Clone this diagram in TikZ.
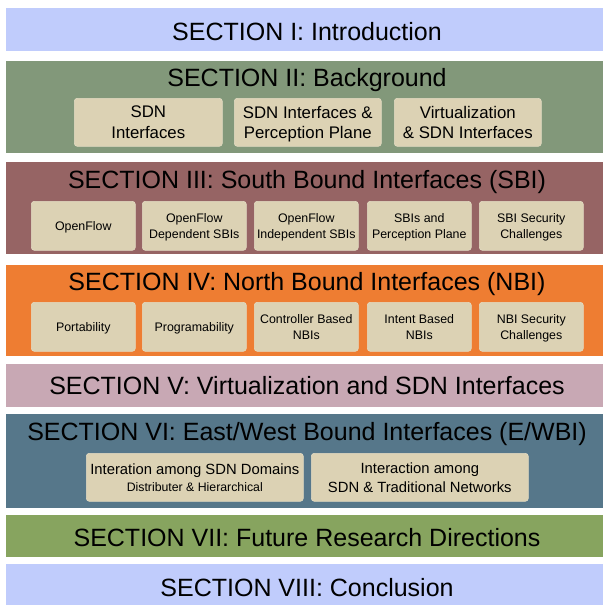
\documentclass[tikz,border=0pt]{standalone}
\usepackage{fontspec}
\setmainfont{Liberation Sans}
\definecolor{cIntro}{RGB}{192,204,252}
\definecolor{cBack}{RGB}{130,152,122}
\definecolor{cSBI}{RGB}{150,100,100}
\definecolor{cNBI}{RGB}{238,125,50}
\definecolor{cVirt}{RGB}{200,168,180}
\definecolor{cEWBI}{RGB}{86,119,138}
\definecolor{cFut}{RGB}{135,164,95}
\definecolor{cBox}{RGB}{220,210,180}
\begin{document}
\begin{tikzpicture}[x=1pt,y=-1pt,
  band/.style={fill=#1, draw=none, anchor=north west, inner sep=0pt, minimum width=597pt},
  title/.style={font=\fontsize{25}{28}\selectfont, inner sep=0pt, anchor=center},
  sub/.style={fill=cBox, draw=cBox!80!white, line width=0.6pt, rounded corners=3pt, anchor=north west, inner sep=0pt, align=center, text depth=0pt},
  subL/.style={sub, font=\fontsize{16.8}{20.5}\selectfont},
  subS/.style={sub, font=\fontsize{12.4}{16}\selectfont, minimum width=104pt, minimum height=49pt}
]
\useasboundingbox (0,0) rectangle (603,605);
% bands
\node[band=cIntro, minimum height=43pt] (b1) at (6,8) {};
\node[band=cBack, minimum height=92pt] (b2) at (6,61) {};
\node[band=cSBI, minimum height=92pt] (b3) at (6,162) {};
\node[band=cNBI, minimum height=91pt] (b4) at (6,265) {};
\node[band=cVirt, minimum height=43pt] (b5) at (6,364) {};
\node[band=cEWBI, minimum height=94pt] (b6) at (6,414) {};
\node[band=cFut, minimum height=42pt] (b7) at (6,515) {};
\node[band=cIntro, minimum height=41pt] (b8) at (6,564) {};
% titles
\node[title] (t1) at (307,31.5) {SECTION I: Introduction};
\node[title] (t2) at (307,80) {SECTION II: Background};
\node[title] (t3) at (307,182) {SECTION III: South Bound Interfaces (SBI)};
\node[title] (t4) at (307,284) {SECTION IV: North Bound Interfaces (NBI)};
\node[title] (t5) at (307,386) {SECTION V: Virtualization and SDN Interfaces};
\node[title] (t6) at (307,434) {SECTION VI: East/West Bound Interfaces (E/WBI)};
\node[title] (t7) at (307,538) {SECTION VII: Future Research Directions};
\node[title] (t8) at (307,588) {SECTION VIII: Conclusion};
% section II boxes
\node[subL, minimum width=148pt, minimum height=48pt] (s21) at (74,98) {SDN\\Interfaces};
\node[subL, minimum width=147pt, minimum height=48pt] (s22) at (234,98) {SDN Interfaces \&\\Perception Plane};
\node[subL, minimum width=147pt, minimum height=48pt] (s23) at (394,98) {Virtualization\\\& SDN Interfaces};
% section III boxes
\node[subS] (s31) at (31,201) {OpenFlow};
\node[subS] (s32) at (142,201) {OpenFlow\\Dependent SBIs};
\node[subS] (s33) at (254,201) {OpenFlow\\Independent SBIs};
\node[subS] (s34) at (367,201) {SBIs and\\Perception Plane};
\node[subS] (s35) at (479,201) {SBI Security\\Challenges};
% section IV boxes
\node[subS] (s41) at (31,302) {Portability};
\node[subS] (s42) at (142,302) {Programability};
\node[subS] (s43) at (254,302) {Controller Based\\NBIs};
\node[subS] (s44) at (367,302) {Intent Based\\NBIs};
\node[subS] (s45) at (479,302) {NBI Security\\Challenges};
% section VI boxes
\node[sub, minimum width=217pt, minimum height=48pt, font=\fontsize{14.8}{17}\selectfont] (s61) at (86,453) {Interation among SDN Domains\\{\fontsize{12.3}{14}\selectfont Distributer \& Hierarchical}};
\node[sub, minimum width=217pt, minimum height=48pt, font=\fontsize{14.8}{19}\selectfont] (s62) at (311,453) {Interaction among\\SDN \& Traditional Networks};
\end{tikzpicture}
\end{document}
